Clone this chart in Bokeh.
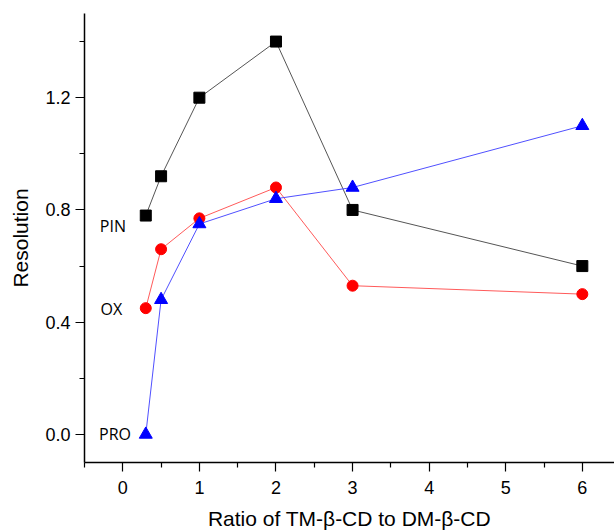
from bokeh.plotting import figure
from bokeh.models import FixedTicker, PrintfTickFormatter, Range1d
from bokeh.core.properties import value
from bokeh.embed import file_html
from bokeh.resources import INLINE

ratio = [0.3, 0.5, 1, 2, 3, 6]
pin = [0.78, 0.92, 1.20, 1.40, 0.80, 0.60]
ox = [0.45, 0.66, 0.77, 0.88, 0.53, 0.50]
pro = [0.00, 0.48, 0.75, 0.84, 0.88, 1.10]

series_names = ["PIN", "OX", "PRO"]
label_x = [-0.30, -0.29, -0.31]
label_y = [0.743, 0.447, 0.0]

x_ticks = [0, 1, 2, 3, 4, 5, 6]
x_minor = [-0.5, 0.5, 1.5, 2.5, 3.5, 4.5, 5.5]
y_ticks = [0.0, 0.4, 0.8, 1.2]
y_minor = [0.2, 0.6, 1.0, 1.4]

p = figure(width=614, height=532, output_backend="svg", toolbar_location=None,
           x_range=Range1d(-0.5, 6.42), y_range=Range1d(-0.1, 1.5),
           min_border_left=84, min_border_right=0, min_border_top=13, min_border_bottom=68)
p.outline_line_color = None
p.grid.visible = False
p.background_fill_color = "white"

tick_font = "Liberation Sans"
for ax in (p.xaxis[0], p.yaxis[0]):
    ax.axis_line_width = 1.5
    ax.axis_line_color = "black"
    ax.major_tick_line_color = "black"
    ax.minor_tick_line_color = "black"
    ax.major_tick_line_width = 1.2
    ax.minor_tick_line_width = 1.2
    ax.major_tick_out = 9
    ax.major_tick_in = 0
    ax.minor_tick_out = 5
    ax.minor_tick_in = 0
    ax.major_label_text_font = tick_font
    ax.major_label_text_font_size = "18px"
    ax.major_label_text_color = "black"
    ax.axis_label_text_font = tick_font
    ax.axis_label_text_font_size = "21px"
    ax.axis_label_text_font_style = "normal"
    ax.axis_label_text_color = "black"

p.xaxis[0].ticker = FixedTicker(ticks=x_ticks, minor_ticks=x_minor)
p.yaxis[0].ticker = FixedTicker(ticks=y_ticks, minor_ticks=y_minor)
p.yaxis[0].formatter = PrintfTickFormatter(format="%.1f")
p.xaxis[0].axis_label = "Ratio of TM-\u03b2-CD to DM-\u03b2-CD"
p.yaxis[0].axis_label = "Resolution"
p.xaxis[0].major_label_standoff = 9
p.xaxis[0].axis_label_standoff = 10
p.yaxis[0].major_label_standoff = 5
p.yaxis[0].axis_label_standoff = 10

p.line(ratio, pin, line_color="#555555", line_width=1)
p.scatter(ratio, pin, marker="square", size=11, fill_color="black", line_color="black")

p.line(ratio, ox, line_color="#ff5a5a", line_width=1)
p.scatter(ratio, ox, marker="circle", size=11, fill_color="red", line_color="red")

p.line(ratio, pro, line_color="#5050ff", line_width=1)
p.scatter(ratio, pro, marker="triangle", size=13, fill_color="blue", line_color="blue")

p.text(x=label_x, y=label_y, text=series_names, text_font=value("Open Sans"),
       text_font_size="16px", text_color="black", text_align="left",
       text_baseline="middle")

open("out.html", "w").write(file_html(p, INLINE))
